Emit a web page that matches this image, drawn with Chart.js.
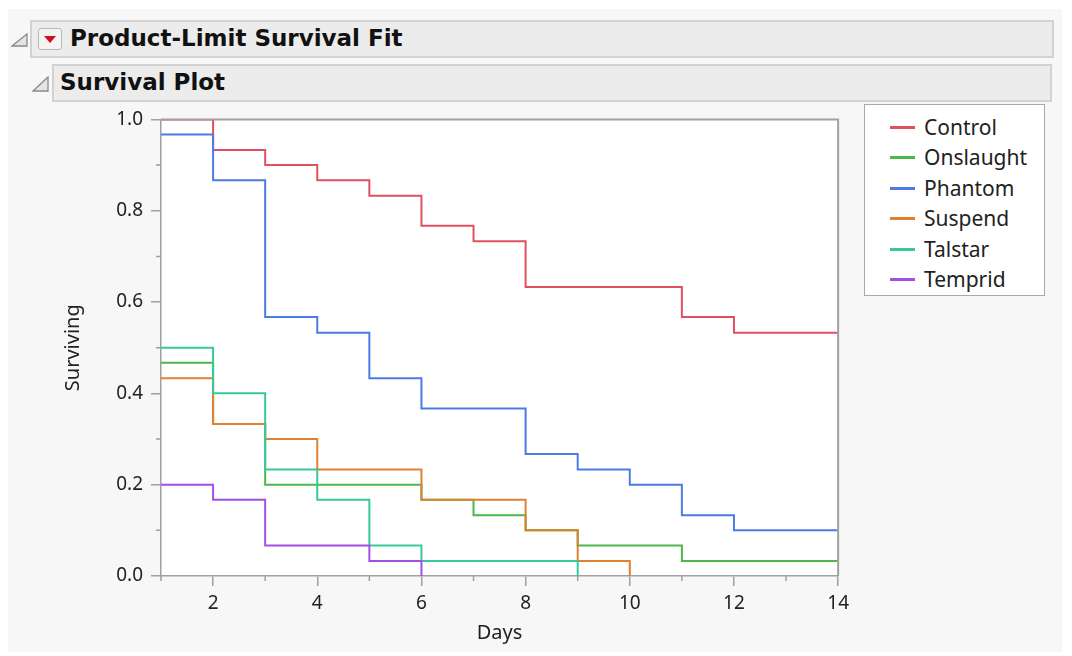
<!DOCTYPE html>
<html>
<head>
<meta charset="utf-8">
<script src="https://cdn.jsdelivr.net/npm/chart.js@4.4.1/dist/chart.umd.min.js"></script>
<style>
  body { margin: 0; background: #ffffff; font-family: "Noto Sans", "Open Sans", sans-serif; }
  #panel { position: absolute; left: 8px; top: 9px; width: 1054px; height: 643px; background: #f7f7f7; }
  .hdr { position: absolute; background: #ececec; border: 2px solid #d2d2d2; box-sizing: border-box;
         font-family: "DejaVu Sans", sans-serif; font-weight: bold; color: #111; font-size: 23px;
         line-height: 33px; white-space: nowrap; }
  .tri { position: absolute; }
  #dropbtn { position: absolute; left: 38px; top: 28px; width: 24px; height: 22px; box-sizing: border-box;
             border: 1px solid #b8b8b8; border-radius: 3px; background: #f4f4f4; }
  #dropbtn:after { content: ""; position: absolute; left: 5px; top: 7px; border-left: 6px solid transparent;
                   border-right: 6px solid transparent; border-top: 7px solid #d0101a; }
  #chartbox { position: absolute; left: 55px; top: 100px; }
  #legend { position: absolute; left: 864px; top: 104px; width: 181px; height: 192px; box-sizing: border-box;
            background: #ffffff; border: 1.5px solid #a8a8a8; }
  .item { position: absolute; left: 0; height: 30px; font-size: 21px; color: #222; white-space: nowrap; }
  .item span.sw { position: absolute; left: 25px; top: 14px; width: 25px; height: 3px; }
  .item span.tx { position: absolute; left: 59px; top: 0; line-height: 30px; }
</style>
</head>
<body>
<div id="panel"></div>
<svg class="tri" style="left:11px;top:33px" width="18" height="14"><polygon points="1,13 16,13 16,1" fill="#e4e4e4" stroke="#8a8a8a" stroke-width="1.3"/></svg>
<div class="hdr" style="left:30px;top:20px;width:1024px;height:38px;padding-left:38px">Product-Limit Survival Fit</div>
<div id="dropbtn"></div>
<svg class="tri" style="left:32px;top:76px" width="18" height="16"><polygon points="1,15 16,15 16,1" fill="#e4e4e4" stroke="#8a8a8a" stroke-width="1.3"/></svg>
<div class="hdr" style="left:52px;top:64px;width:1000px;height:38px;padding-left:6px">Survival Plot</div>
<div id="chartbox"><canvas id="survchart" width="800" height="550"></canvas></div>
<div id="legend"></div>

<script>
// group names and colours
var groups = ["Control", "Onslaught", "Phantom", "Suspend", "Talstar", "Temprid"];
var colors = ["#e2505f", "#4cb84c", "#4c7ae6", "#e08030", "#38c99b", "#a64de8"];

// product-limit estimates: day where each step starts, survival from that day on
var controlDays = [1, 2, 3, 4, 5, 6, 7, 8, 11, 12, 14];
var controlSurv = [1.0, 0.933, 0.9, 0.867, 0.833, 0.767, 0.733, 0.633, 0.567, 0.533, 0.533];

var onslaughtDays = [1, 2, 3, 6, 7, 8, 9, 11, 14];
var onslaughtSurv = [0.467, 0.333, 0.2, 0.167, 0.133, 0.1, 0.067, 0.033, 0.033];

var phantomDays = [1, 2, 3, 4, 5, 6, 8, 9, 10, 11, 12, 14];
var phantomSurv = [0.967, 0.867, 0.567, 0.533, 0.433, 0.367, 0.267, 0.233, 0.2, 0.133, 0.1, 0.1];

var suspendDays = [1, 2, 3, 4, 6, 8, 9, 10];
var suspendSurv = [0.433, 0.333, 0.3, 0.233, 0.167, 0.1, 0.033, 0.0];

var talstarDays = [1, 2, 3, 4, 5, 6, 9];
var talstarSurv = [0.5, 0.4, 0.233, 0.167, 0.067, 0.033, 0.0];

var tempridDays = [1, 2, 3, 5, 6];
var tempridSurv = [0.2, 0.167, 0.067, 0.033, 0.0];

// axis ticks
var xTicks = [2, 4, 6, 8, 10, 12, 14];
var xMinor = [1, 3, 5, 7, 9, 11, 13];
var yTicks = [0.0, 0.2, 0.4, 0.6, 0.8, 1.0];
var yMinor = [0.1, 0.3, 0.5, 0.7, 0.9];

var allDays = [controlDays, onslaughtDays, phantomDays, suspendDays, talstarDays, tempridDays];
var allSurv = [controlSurv, onslaughtSurv, phantomSurv, suspendSurv, talstarSurv, tempridSurv];

function points(days, surv) {
  return days.map(function (d, i) { return { x: d, y: surv[i] }; });
}

var axisColor = '#a0a0a0';

// white plot background, minor ticks and the top/right sides of the frame
var framePlugin = {
  id: 'frame',
  beforeDraw: function (chart) {
    var ctx = chart.ctx, a = chart.chartArea;
    ctx.save();
    ctx.fillStyle = '#ffffff';
    ctx.fillRect(a.left, a.top, a.right - a.left, a.bottom - a.top);
    ctx.restore();
  },
  afterDraw: function (chart) {
    var ctx = chart.ctx, a = chart.chartArea;
    var xs = chart.scales.x, ys = chart.scales.y;
    ctx.save();
    ctx.strokeStyle = axisColor;
    ctx.lineWidth = 2;
    ctx.beginPath();
    ctx.moveTo(a.left, a.top); ctx.lineTo(a.right, a.top); ctx.lineTo(a.right, a.bottom);
    ctx.stroke();
    ctx.lineWidth = 1.5;
    ctx.beginPath();
    yMinor.forEach(function (v) {
      var p = ys.getPixelForValue(v);
      ctx.moveTo(a.left - 5, p); ctx.lineTo(a.left, p);
    });
    xMinor.forEach(function (v) {
      var p = xs.getPixelForValue(v);
      ctx.moveTo(p, a.bottom); ctx.lineTo(p, a.bottom + 5);
    });
    ctx.stroke();
    ctx.restore();
  }
};

var tickFont = { family: '"Noto Sans", "Open Sans", sans-serif', size: 19 };
var titleFont = { family: '"Noto Sans", "Open Sans", sans-serif', size: 20 };

var ctx = document.getElementById("survchart");
var survChart = new Chart(ctx, {
  type: 'line',
  data: {
    datasets: groups.map(function (g, i) {
      return {
        label: g,
        data: points(allDays[i], allSurv[i]),
        borderColor: colors[i],
        backgroundColor: colors[i],
        borderWidth: 2,
        pointRadius: 0,
        stepped: 'before',
        fill: false,
        order: groups.length - i
      };
    })
  },
  plugins: [framePlugin],
  options: {
    responsive: false,
    animation: false,
    layout: { padding: { top: 12, right: 10, left: 0, bottom: 0 } },
    plugins: {
      legend: { display: false },
      tooltip: { enabled: false }
    },
    scales: {
      x: {
        type: 'linear',
        min: 1,
        max: 14,
        afterBuildTicks: function (scale) {
          scale.ticks = xTicks.map(function (v) { return { value: v }; });
        },
        afterFit: function (scale) { scale.height = 74; },
        ticks: { color: '#222', font: tickFont, padding: 6, maxRotation: 0 },
        grid: { drawOnChartArea: false, tickLength: 10, color: axisColor, lineWidth: 1.5 },
        border: { color: axisColor, width: 1.5 },
        title: { display: true, text: 'Days', color: '#222', font: titleFont, padding: { top: 0, bottom: 5 } }
      },
      y: {
        min: 0,
        max: 1,
        afterBuildTicks: function (scale) {
          scale.ticks = yTicks.map(function (v) { return { value: v }; });
        },
        afterFit: function (scale) { scale.width = 106; },
        ticks: {
          color: '#222', font: tickFont, padding: 8,
          callback: function (v) { return v.toFixed(1); }
        },
        grid: { drawOnChartArea: false, tickLength: 10, color: axisColor, lineWidth: 1.5 },
        border: { color: axisColor, width: 1.5 },
        title: { display: true, text: 'Surviving', color: '#222', font: titleFont, padding: { top: 6, bottom: 0 } }
      }
    }
  }
});

// html legend built from the same names and colours
var legend = document.getElementById("legend");
groups.forEach(function (g, i) {
  var row = document.createElement("div");
  row.className = "item";
  row.style.top = (7 + i * 30.4) + "px";
  row.innerHTML = '<span class="sw" style="background:' + colors[i] + '"></span><span class="tx">' + g + '</span>';
  legend.appendChild(row);
});
</script>
</body>
</html>
